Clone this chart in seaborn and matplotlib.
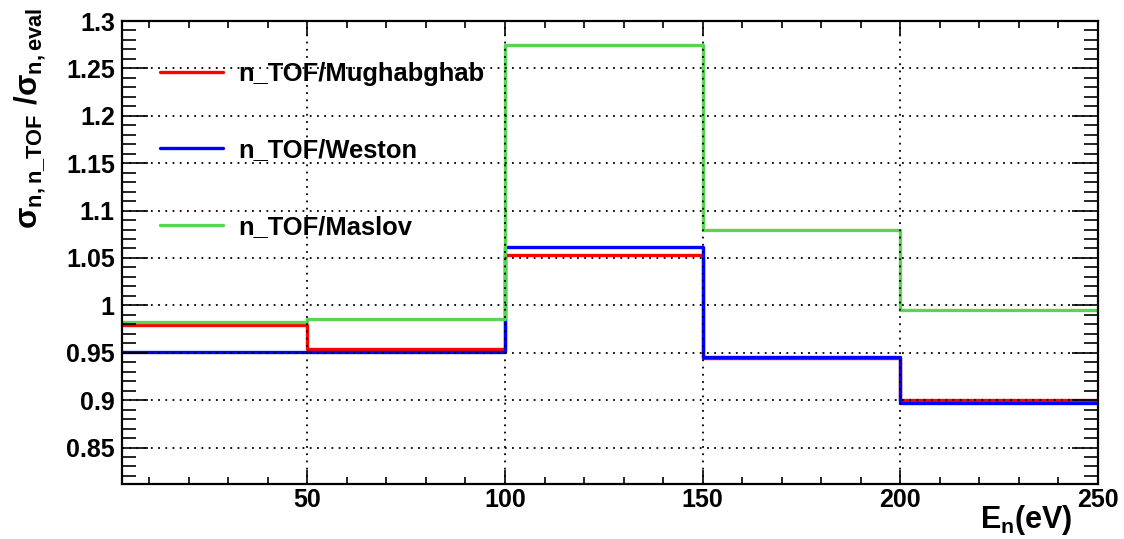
import numpy as np
import pandas as pd
import matplotlib
matplotlib.use("Agg")
import matplotlib.pyplot as plt
import seaborn as sns
from matplotlib.lines import Line2D
from matplotlib.ticker import MultipleLocator

# Energy bin edges (eV) and cross-section ratios per bin
bin_edges = [3, 50, 100, 150, 200, 250]
ratio_mughabghab = [0.979, 0.954, 1.053, 0.944, 0.900]
ratio_weston = [0.951, 0.951, 1.062, 0.946, 0.897]
ratio_maslov = [0.982, 0.986, 1.275, 1.079, 0.995]

series_names = ["n_TOF/Mughabghab", "n_TOF/Weston", "n_TOF/Maslov"]
series_values = [ratio_mughabghab, ratio_weston, ratio_maslov]
series_colors = ["#ff0000", "#0000ff", "#59d454"]

y_ticks = [0.85, 0.9, 0.95, 1.0, 1.05, 1.1, 1.15, 1.2, 1.25, 1.3]
y_tick_labels = ["0.85", "0.9", "0.95", "1", "1.05", "1.1", "1.15", "1.2", "1.25", "1.3"]
x_ticks = [50, 100, 150, 200, 250]
x_tick_labels = ["50", "100", "150", "200", "250"]

sns.set_theme(style="white")
plt.rcParams["font.family"] = ["Liberation Sans", "DejaVu Sans"]
plt.rcParams["font.weight"] = "bold"
plt.rcParams["text.color"] = "black"
plt.rcParams["axes.labelcolor"] = "black"
plt.rcParams["xtick.color"] = "black"
plt.rcParams["ytick.color"] = "black"
plt.rcParams["mathtext.fontset"] = "custom"
plt.rcParams["mathtext.rm"] = "Liberation Sans"
plt.rcParams["mathtext.bf"] = "Liberation Sans:bold"
plt.rcParams["mathtext.it"] = "Liberation Sans:italic"

fig = plt.figure(figsize=(11.24, 5.39), dpi=100)
ax = fig.add_axes([0.1083, 0.102, 0.8683, 0.859])

centers = [(a + b) / 2 for a, b in zip(bin_edges[:-1], bin_edges[1:])]
frames = []
for name, vals in zip(series_names, series_values):
    frames.append(pd.DataFrame({"energy": centers, "ratio": vals, "set": name}))
df = pd.concat(frames, ignore_index=True)

# one step histogram per evaluation, drawn in legend order
for name, color in zip(series_names, series_colors):
    sub = df[df["set"] == name]
    sns.histplot(data=sub, x="energy", weights="ratio", bins=bin_edges,
                 element="step", fill=False, color=color, linewidth=2.4,
                 ax=ax, legend=False)

ax.set_xlim(3, 250)
ax.set_ylim(0.8115, 1.3)
ax.set_xlabel("")
ax.set_ylabel("")

ax.xaxis.set_minor_locator(MultipleLocator(10))
ax.yaxis.set_minor_locator(MultipleLocator(0.01))
ax.set_yticks(y_ticks)
ax.set_yticklabels(y_tick_labels)
ax.set_xticks(x_ticks)
ax.set_xticklabels(x_tick_labels)

ax.grid(True, which="major", color="black", linestyle=(0, (1, 3)), linewidth=1.3)
ax.set_axisbelow(False)

ax.tick_params(axis="y", which="major", direction="in", length=19, width=1.2,
               left=True, right=True, labelsize=18, pad=5)
ax.tick_params(axis="y", which="minor", direction="in", length=10, width=1.2,
               left=True, right=True)
ax.tick_params(axis="x", which="major", direction="in", length=10, width=1.2,
               bottom=True, top=True, labelsize=18, pad=3)
ax.tick_params(axis="x", which="minor", direction="in", length=5, width=1.2,
               bottom=True, top=True)
for lab in ax.get_xticklabels() + ax.get_yticklabels():
    lab.set_fontweight("bold")
    lab.set_color("black")

for sp in ax.spines.values():
    sp.set_color("black")
    sp.set_linewidth(1.6)

handles = [Line2D([], [], color=c, linewidth=2.4) for c in series_colors]
leg = ax.legend(handles, series_names, loc="upper left",
                bbox_to_anchor=(0.039, 0.912), frameon=False,
                fontsize=18.4, handlelength=2.47, handletextpad=0.6,
                labelspacing=2.05, borderpad=0, borderaxespad=0)
for t in leg.get_texts():
    t.set_fontweight("bold")
    t.set_color("black")

fig.text(0.027, 0.985, r"$\mathrm{\sigma}_{\mathbf{n,n\_TOF}}\ /\mathrm{\sigma}_{\mathbf{n,eval}}$",
         rotation=90, ha="center", va="top", fontsize=22.5)
fig.text(0.954, 0.003, r"$\mathbf{E_{n}(eV)}$", ha="right", va="bottom", fontsize=22)

fig.savefig("out.png", dpi=100)
